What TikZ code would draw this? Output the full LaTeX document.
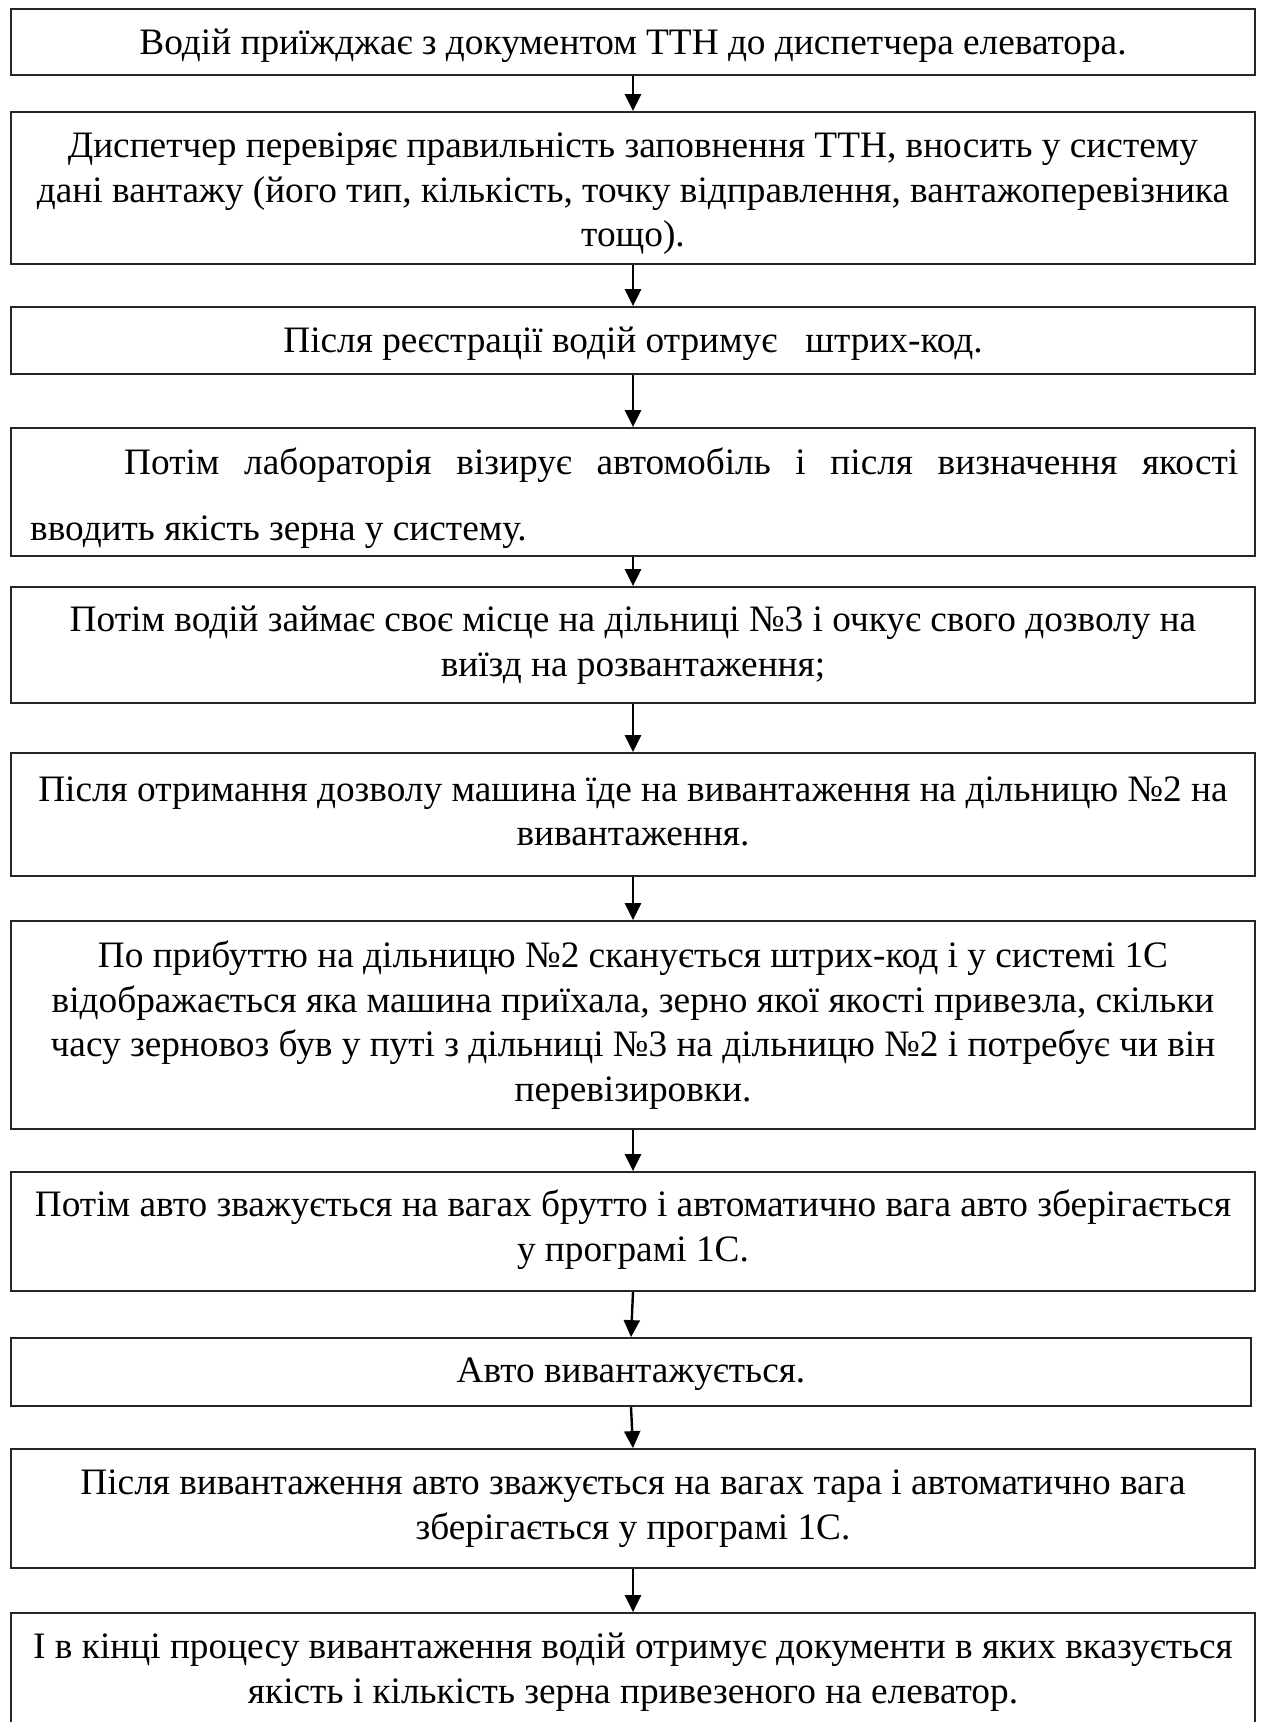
\documentclass[tikz,border=0pt]{standalone}
\usepackage{fontspec}
\setmainfont{Liberation Serif}
\usetikzlibrary{arrows.meta}
\begin{document}
\begin{tikzpicture}[x=1pt,y=-1pt,
  box/.style={draw=black!85, line width=1.8pt, rectangle, inner sep=0pt,
    minimum width=1244pt},
  lbl/.style={inner sep=0pt, align=center, font=\fontsize{37.3}{44.5}\selectfont},
  arr/.style={line width=2.4pt, -{Triangle[width=16pt,length=17pt]}},
  txt/.style={inner sep=0pt, font=\fontsize{37.3}{44.5}\selectfont}]
\useasboundingbox (0,0) rectangle (1262,1722);
\clip (0,0) rectangle (1262,1722);
\fill[white] (0,0) rectangle (1262,1722);
% boxes
\node[box, minimum height=66pt] (b1) at (633,42) {};
\node[box, minimum height=152pt] (b2) at (633,188) {};
\node[box, minimum height=67pt] (b3) at (633,340.5) {};
\node[box, minimum height=128pt] (b4) at (633,492) {};
\node[box, minimum height=116pt] (b5) at (633,645) {};
\node[box, minimum height=123pt] (b6) at (633,814.5) {};
\node[box, minimum height=208pt] (b7) at (633,1025) {};
\node[box, minimum height=119pt] (b8) at (633,1231.5) {};
\node[box, minimum height=68pt, minimum width=1240pt] (b9) at (631,1372) {};
\node[box, minimum height=119pt] (b10) at (633,1508.5) {};
\node[box, minimum height=112pt] (b11) at (633,1669) {};
% texts
\node[lbl] (t1) at ([yshift=-3.5pt]b1.center) {Водій приїжджає з документом ТТН до диспетчера елеватора.};
\node[lbl] (t2) at ([yshift=-6pt]b2.center) {Диспетчер перевіряє правильність заповнення ТТН, вносить у систему\\ дані вантажу (його тип, кількість, точку відправлення, вантажоперевізника\\ тощо).};
\node[lbl] (t3) at ([yshift=-3pt]b3.center) {Після реєстрації водій отримує\ \ \ штрих-код.};
\node[txt, anchor=mid west] (t4a) at (124,472) {\makebox[1114pt][s]{Потім лабораторія  візирує автомобіль і після визначення якості}};
\node[txt, anchor=mid west] (t4b) at (30,538) {вводить якість зерна у систему.};
\node[lbl] (t5) at (b5.center) {Потім водій займає своє місце на дільниці №3 і очкує свого дозволу на\\ виїзд на розвантаження;};
\node[lbl] (t6) at ([yshift=3pt]b6.center) {Після отримання дозволу машина їде на вивантаження на дільницю №2 на\\ вивантаження.};
\node[lbl] (t7) at (b7.center) {По прибуттю на дільницю №2 сканується штрих-код і у системі 1С\\ відображається яка машина приїхала, зерно якої якості привезла, скільки\\ часу зерновоз був у путі з дільниці №3 на дільницю №2 і потребує чи він\\ перевізировки.};
\node[lbl] (t8) at ([yshift=2pt]b8.center) {Потім авто зважується на вагах брутто і автоматично вага авто зберігається\\ у програмі 1С.};
\node[lbl] (t9) at ([yshift=-2pt]b9.center) {Авто вивантажується.};
\node[lbl] (t10) at (b10.center) {Після вивантаження авто зважується на вагах тара і автоматично вага\\ зберігається у програмі 1С.};
\node[lbl] (t11) at ([yshift=-3pt]b11.center) {І в кінці процесу вивантаження водій отримує документи в яких вказується\\ якість і кількість зерна привезеного на елеватор.};
% connectors
\draw[arr] (b1.south) -- (b2.north);
\draw[arr] (b2.south) -- (b3.north);
\draw[arr] (b3.south) -- (b4.north);
\draw[arr] (b4.south) -- (b5.north);
\draw[arr] (b5.south) -- (b6.north);
\draw[arr] (b6.south) -- (b7.north);
\draw[arr] (b7.south) -- (b8.north);
\draw[arr] (b8.south) -- (b9.north);
\draw[arr] (b9.south) -- (b10.north);
\draw[arr] (b10.south) -- (b11.north);
\end{tikzpicture}
\end{document}
